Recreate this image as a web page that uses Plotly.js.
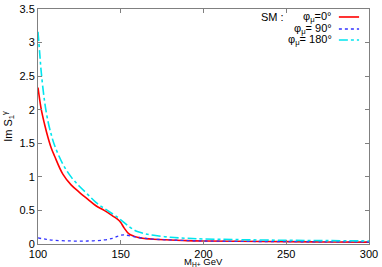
<!DOCTYPE html>
<html>
<head>
<meta charset="utf-8">
<script src="https://cdn.plot.ly/plotly-3.0.1.min.js"></script>
<style>html,body{margin:0;padding:0;background:#fff;}#plot{width:382px;height:267px;}</style>
</head>
<body>
<div id="plot"></div>
<script>
// Data
const massRed = [100, 102, 104, 106, 108, 110, 115, 120, 125, 130, 135, 140, 145, 148, 150, 152, 155, 160, 165, 170, 180, 190, 200, 220, 250, 275, 300];
const imRed0  = [2.33, 2.0, 1.78, 1.59, 1.43, 1.31, 1.04, 0.88, 0.77, 0.67, 0.57, 0.5, 0.42, 0.37, 0.32, 0.24, 0.15, 0.1, 0.08, 0.07, 0.06, 0.05, 0.045, 0.04, 0.035, 0.03, 0.028];

const massBlue = [100, 105, 110, 120, 130, 140, 145, 148, 150, 152, 155, 160, 165, 170, 180, 200, 250, 300];
const imBlue90 = [0.09, 0.07, 0.055, 0.045, 0.045, 0.06, 0.085, 0.115, 0.13, 0.135, 0.125, 0.1, 0.085, 0.072, 0.06, 0.045, 0.035, 0.03];

const massCyan = [100, 101, 102, 104, 106, 108, 110, 115, 120, 125, 130, 135, 140, 145, 148, 150, 153, 155, 158, 160, 165, 170, 180, 190, 200, 220, 250, 275, 300];
const imCyan180 = [3.16, 2.85, 2.55, 2.12, 1.83, 1.63, 1.47, 1.19, 1.0, 0.86, 0.74, 0.62, 0.53, 0.45, 0.4, 0.36, 0.3, 0.26, 0.21, 0.185, 0.15, 0.13, 0.1, 0.085, 0.075, 0.065, 0.055, 0.05, 0.045];

const xTicks = [100, 150, 200, 250, 300];
const yTicks = [0, 0.5, 1, 1.5, 2, 2.5, 3, 3.5];
const yTickLabels = ['0', '0.5', '1', '1.5', '2', '2.5', '3', '3.5'];
const legendLabels = ['φ<sub>μ</sub>=0°', 'φ<sub>μ</sub>= 90°', 'φ<sub>μ</sub>= 180°'];
const legendTitle = 'SM :';
const xTitle = 'M<sub>H+</sub> GeV';
const yTitle = 'Im S<sub>1</sub><sup>γ</sup>';

const colors = ['#ff0000', '#3333ff', '#00e5ee'];
const dashes = ['solid', 'dot', 'dashdot'];

const traces = [
  {x: massRed, y: imRed0, mode: 'lines', line: {color: colors[0], width: 1.6, shape: 'spline', dash: dashes[0]}},
  {x: massBlue, y: imBlue90, mode: 'lines', line: {color: colors[1], width: 1.3, shape: 'spline', dash: dashes[1]}},
  {x: massCyan, y: imCyan180, mode: 'lines', line: {color: colors[2], width: 1.6, shape: 'spline', dash: dashes[2]}}
];

const font = {family: 'Liberation Sans, Arial, sans-serif', size: 11, color: '#000'};

const annotations = [{
  xref: 'paper', yref: 'paper', x: 0.748, y: 0.968, xanchor: 'right', yanchor: 'middle',
  text: legendTitle, showarrow: false, font: font
}, {
  xref: 'paper', yref: 'paper', x: 0.5, y: 0, xanchor: 'center', yanchor: 'top', yshift: -10,
  text: xTitle, showarrow: false, font: {family: font.family, size: 9.5, color: '#000'}
}];
const shapes = [];
const rowY = [0.966, 0.915, 0.868];
legendLabels.forEach((t, i) => {
  annotations.push({
    xref: 'paper', yref: 'paper', x: 0.895, y: rowY[i], xanchor: 'right', yanchor: 'middle',
    text: t, showarrow: false, font: font
  });
  shapes.push({
    type: 'line', xref: 'paper', yref: 'paper', x0: 0.909, x1: 0.97, y0: rowY[i], y1: rowY[i],
    line: {color: colors[i], width: i === 1 ? 1.3 : 1.6, dash: dashes[i]}
  });
});

const layout = {
  width: 382, height: 267,
  margin: {l: 38, r: 13, t: 9, b: 23},
  paper_bgcolor: '#fff', plot_bgcolor: '#fff',
  showlegend: false,
  font: font,
  xaxis: {
    range: [100, 300], tickvals: xTicks, ticktext: xTicks.map(String),
    ticks: 'inside', ticklen: 4, tickcolor: '#808080', mirror: 'ticks',
    showline: true, linecolor: '#808080', linewidth: 1, showgrid: false, zeroline: false,
    tickfont: font
  },
  yaxis: {
    range: [0, 3.5], tickvals: yTicks, ticktext: yTickLabels,
    ticks: 'inside', ticklen: 4, tickcolor: '#808080', mirror: 'ticks',
    showline: true, linecolor: '#808080', linewidth: 1, showgrid: false, zeroline: false,
    tickfont: font,
    title: {text: yTitle, font: {family: font.family, size: 11, color: '#000'}, standoff: 6}
  },
  annotations: annotations,
  shapes: shapes
};

Plotly.newPlot('plot', traces, layout, {displayModeBar: false, staticPlot: true});
</script>
</body>
</html>
